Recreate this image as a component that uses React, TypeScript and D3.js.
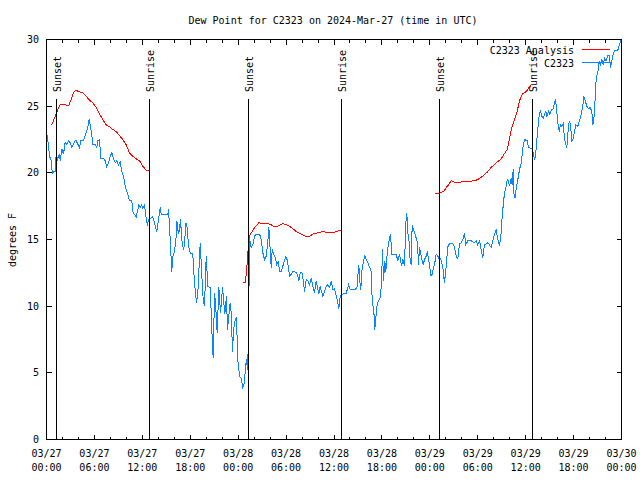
import React from 'react';
import * as d3 from 'd3';

const TITLE = 'Dew Point for C2323 on 2024-Mar-27 (time in UTC)';
const Y_LABEL = 'degrees F';
const START = Date.UTC(2024, 2, 27);
const HOURS_SPAN = 72;
const yTicks = [0, 5, 10, 15, 20, 25, 30];
const majorTickHours = [0, 6, 12, 18, 24, 30, 36, 42, 48, 54, 60, 66, 72];
const minorTickStep = 2;
const sunsetHours = [1.25, 25.29, 49.21];
const sunriseHours = [12.9, 36.94, 60.86];
const legendNames = ['C2323 Analysis', 'C2323'];

// Analysis (model) dew point, hours since 03/27 00:00 UTC, deg F
const analysisNight1: [number, number][] = [
  [0.66, 23.6], [1.0, 24.1], [1.41, 24.75], [1.72, 25.1], [2.25, 25.1], [2.79, 25.05], [3.09, 25.5],
  [3.29, 25.9], [3.63, 26.2], [4.04, 26.1], [4.55, 26.0], [4.97, 25.75], [5.38, 25.45], [5.8, 25.25],
  [6.22, 24.9], [6.64, 24.4], [7.05, 24.0], [7.48, 23.6], [7.89, 23.45], [8.3, 23.25], [8.73, 23.1],
  [9.14, 22.8], [9.55, 22.5], [9.98, 22.1], [10.39, 21.5], [10.81, 21.25], [11.23, 21.05], [11.65, 20.9],
  [12.06, 20.5], [12.48, 20.2], [12.77, 20.15],
];
const analysisNight2: [number, number][] = [
  [24.58, 11.8], [24.88, 11.8], [25.01, 12.4], [25.13, 13.25], [25.29, 14.6], [25.51, 15.45], [25.76, 15.6],
  [26.05, 15.9], [26.33, 16.05], [26.58, 16.25], [27.09, 16.2], [27.71, 16.2], [28.14, 16.1], [28.55, 15.95],
  [28.96, 16.0], [29.59, 16.2], [30.09, 16.1], [30.64, 15.9], [31.27, 15.6], [31.89, 15.4], [32.52, 15.2],
  [32.85, 15.2], [33.35, 15.4], [33.97, 15.5], [34.6, 15.6], [35.22, 15.5], [35.85, 15.5], [36.28, 15.6],
  [36.81, 15.7],
];
const analysisNight3: [number, number][] = [
  [48.59, 18.4], [49.0, 18.45], [49.42, 18.55], [49.75, 18.6], [50.05, 18.9], [50.34, 19.1], [50.68, 19.4],
  [51.09, 19.3], [51.72, 19.3], [52.55, 19.35], [53.59, 19.4], [54.0, 19.5], [54.63, 19.75], [55.18, 20.05],
  [55.68, 20.4], [56.31, 20.75], [56.94, 21.05], [57.35, 21.45], [57.69, 21.75], [57.98, 22.6], [58.31, 23.5],
  [58.6, 24.0], [58.89, 24.5], [59.23, 25.4], [59.57, 25.9], [60.07, 26.1], [60.48, 26.45], [60.69, 26.55],
];

// Station C2323 observed dew point, hours since 03/27 00:00 UTC, deg F
const stationObs: [number, number][] = [
  [0.05, 22.9], [0.25, 22.1], [0.38, 21.2], [0.54, 21.1], [0.75, 19.9], [0.88, 20.1], [1.13, 20.1], [1.21, 21.5],
  [1.38, 21.0], [1.59, 21.4], [1.72, 20.9], [1.92, 21.8], [2.13, 21.4], [2.34, 22.3], [2.54, 22.1], [2.75, 22.4],
  [2.97, 22.25], [3.17, 21.9], [3.38, 22.2], [3.67, 22.45], [3.88, 22.2], [4.13, 21.9], [4.3, 22.4], [4.63, 22.4],
  [4.92, 22.9], [5.17, 23.4], [5.35, 24.05], [5.47, 23.6], [5.67, 22.9], [5.8, 22.1], [6.1, 22.1], [6.3, 21.9],
  [6.42, 22.4], [6.64, 22.5], [6.8, 21.1], [7.14, 21.1], [7.35, 20.9], [7.55, 20.45], [7.76, 20.75], [7.98, 21.25],
  [8.18, 21.5], [8.39, 21.1], [8.6, 20.75], [8.8, 20.9], [9.02, 20.6], [9.23, 20.8], [9.43, 20.1], [9.64, 19.75],
  [9.85, 19.0], [10.06, 18.6], [10.27, 18.25], [10.39, 17.9], [10.68, 17.9], [10.81, 17.1], [10.98, 16.9],
  [11.23, 16.7], [11.39, 17.1], [11.56, 17.6], [11.73, 17.4], [11.93, 17.6], [12.06, 17.35], [12.27, 17.6],
  [12.4, 17.0], [12.56, 16.25], [12.65, 16.1], [12.77, 16.5], [13.31, 16.7], [13.81, 15.6], [13.94, 16.1],
  [14.24, 17.4], [14.36, 16.9], [15.19, 16.9], [15.28, 17.25], [15.49, 15.0], [15.61, 13.5], [15.69, 12.6],
  [15.82, 13.75], [16.03, 14.1], [16.24, 15.25], [16.32, 16.4], [16.44, 15.75], [16.57, 15.4], [16.78, 16.5],
  [16.94, 15.0], [17.15, 14.25], [17.28, 14.6], [17.44, 16.25], [17.62, 15.9], [17.78, 14.5], [17.99, 14.0],
  [18.32, 13.9], [18.53, 11.75], [18.78, 10.25], [18.95, 11.0], [19.25, 14.75], [19.45, 12.25], [19.62, 10.5],
  [19.78, 10.0], [20.0, 13.75], [20.2, 11.5], [20.5, 11.4], [20.75, 7.5], [20.87, 6.1], [21.04, 11.0],
  [21.16, 10.25], [21.37, 8.0], [21.58, 11.4], [21.79, 9.5], [22.04, 11.4], [22.2, 10.25], [22.33, 9.4],
  [22.54, 10.75], [22.66, 8.25], [22.83, 9.25], [23.0, 10.25], [23.13, 9.5], [23.29, 6.6], [23.42, 8.25],
  [23.63, 9.0], [23.79, 9.1], [23.95, 6.0], [24.17, 4.75], [24.38, 4.6], [24.58, 3.9], [24.79, 4.25],
  [24.92, 5.5], [25.04, 6.0], [25.17, 5.25], [25.29, 7.5], [25.42, 15.1], [25.63, 14.4], [25.84, 14.6],
  [26.05, 15.25], [26.26, 15.4], [26.46, 15.4], [26.68, 15.4], [26.89, 15.0], [27.09, 14.0], [27.3, 13.5],
  [27.51, 13.75], [27.71, 14.75], [27.84, 15.95], [28.01, 14.25], [28.14, 12.9], [28.26, 14.25], [28.46, 13.9],
  [28.67, 13.6], [28.84, 13.1], [29.05, 13.4], [29.17, 12.6], [29.39, 12.6], [29.59, 13.0], [29.8, 13.4],
  [29.93, 13.7], [30.09, 13.6], [30.26, 13.0], [30.43, 12.25], [30.64, 12.4], [30.84, 12.6], [31.26, 12.55],
  [31.46, 12.25], [31.59, 11.9], [31.77, 12.5], [31.97, 12.55], [32.1, 12.1], [32.31, 11.1], [32.52, 12.0],
  [32.72, 11.9], [32.93, 11.6], [33.14, 12.1], [33.35, 11.5], [33.56, 11.0], [33.77, 11.9], [33.97, 11.25],
  [34.1, 10.95], [34.27, 11.5], [34.43, 11.1], [34.6, 10.75], [34.81, 11.1], [35.02, 11.5], [35.22, 11.6],
  [35.44, 11.4], [35.65, 11.9], [35.85, 11.25], [36.06, 11.3], [36.28, 10.75], [36.48, 10.25], [36.6, 9.8],
  [36.78, 10.75], [36.98, 10.9], [37.53, 10.95], [37.82, 11.6], [38.03, 11.25], [38.23, 11.25], [38.86, 11.3],
  [38.98, 12.25], [39.11, 13.1], [39.23, 11.9], [39.36, 11.25], [39.48, 12.6], [39.61, 13.1], [39.73, 13.5],
  [39.86, 13.8], [40.03, 13.5], [40.23, 13.25], [40.45, 12.95], [40.66, 12.6], [40.78, 10.5], [40.99, 9.6],
  [41.11, 8.25], [41.24, 9.1], [41.36, 9.9], [41.53, 10.4], [41.7, 10.5], [41.82, 10.75], [41.95, 11.75],
  [42.07, 14.25], [42.2, 11.9], [42.36, 13.4], [42.49, 12.6], [42.66, 13.9], [42.79, 14.6], [42.95, 15.05],
  [43.07, 15.4], [43.24, 13.9], [43.79, 13.9], [43.99, 13.4], [44.2, 13.9], [44.45, 13.0], [44.62, 13.5],
  [44.83, 13.0], [44.99, 16.25], [45.12, 16.95], [45.24, 15.5], [45.42, 14.75], [45.54, 13.4], [45.67, 13.1],
  [45.79, 16.1], [45.96, 15.75], [46.17, 15.4], [46.33, 15.0], [46.46, 14.75], [46.58, 13.1], [46.71, 14.4],
  [46.87, 13.9], [47.05, 13.4], [47.17, 13.1], [47.33, 13.5], [47.54, 13.75], [47.71, 14.1], [47.83, 13.5],
  [47.96, 13.1], [48.12, 12.3], [48.3, 12.4], [48.46, 12.9], [48.62, 13.25], [48.8, 13.9], [48.96, 13.8],
  [49.12, 13.6], [49.21, 13.75], [49.42, 13.4], [49.62, 13.0], [49.83, 11.75], [50.05, 13.0], [50.25, 14.45],
  [50.46, 14.7], [50.87, 14.7], [51.09, 14.4], [51.3, 13.75], [51.5, 13.55], [51.71, 14.7], [51.93, 14.75],
  [52.13, 15.0], [52.34, 15.5], [52.5, 14.6], [52.76, 14.9], [53.18, 14.9], [53.5, 14.75], [53.8, 14.9],
  [54.0, 14.6], [54.22, 14.9], [54.43, 14.25], [54.63, 13.6], [54.84, 14.6], [55.26, 14.75], [55.47, 14.6],
  [55.68, 14.4], [55.88, 14.9], [56.1, 15.4], [56.31, 15.7], [56.51, 15.0], [56.72, 14.5], [56.94, 15.5],
  [57.06, 16.75], [57.22, 17.75], [57.35, 18.5], [57.56, 19.0], [57.69, 19.5], [57.81, 19.4], [57.98, 19.0],
  [58.19, 19.6], [58.31, 19.1], [58.44, 20.25], [58.51, 18.5], [58.69, 18.1], [58.82, 18.9], [59.02, 19.5],
  [59.23, 20.25], [59.44, 20.75], [59.57, 21.4], [59.69, 22.1], [59.86, 22.5], [60.19, 22.4], [60.36, 21.9],
  [60.77, 21.8], [60.9, 21.6], [61.11, 21.0], [61.23, 21.25], [61.4, 22.5], [61.52, 23.25], [61.7, 24.4],
  [61.86, 24.6], [62.02, 24.25], [62.2, 24.1], [62.36, 24.4], [62.52, 24.6], [62.65, 24.25], [62.86, 24.6],
  [63.02, 24.4], [63.2, 24.7], [63.4, 24.75], [63.61, 25.2], [63.74, 25.5], [63.9, 24.6], [64.03, 23.75],
  [64.2, 23.1], [64.36, 23.6], [64.53, 23.5], [64.7, 23.7], [64.86, 22.6], [65.03, 22.1], [65.15, 21.9],
  [65.28, 22.9], [65.45, 23.9], [65.62, 23.6], [65.78, 22.4], [65.96, 22.6], [66.12, 23.1], [66.28, 23.6],
  [66.53, 23.5], [66.74, 23.9], [66.95, 24.4], [67.15, 25.0], [67.28, 25.75], [67.45, 25.4], [67.66, 25.0],
  [67.91, 24.8], [68.08, 24.9], [68.28, 24.6], [68.41, 23.6], [68.53, 23.9], [68.71, 25.6], [68.83, 27.1],
  [69.03, 27.5], [69.21, 28.4], [69.37, 28.0], [69.53, 28.5], [69.71, 28.1], [69.87, 28.6], [70.08, 28.4],
  [70.28, 28.8], [70.5, 28.8], [70.62, 27.9], [70.79, 28.4], [70.91, 28.8], [71.12, 29.2], [71.54, 29.2],
  [71.75, 29.6], [71.97, 30.0],
];

const analysisSegments = [analysisNight1, analysisNight2, analysisNight3];

const RED = '#ff0000';
const BLUE = '#0a84ff';
const FONT = '"DejaVu Sans Mono", "Liberation Mono", monospace';

const toDate = (h: number) => new Date(START + h * 3600 * 1000);

export default function App() {
  const W = 640;
  const H = 480;
  const left = 46.5, right = 621.5, top = 39.5, bottom = 439.5;

  const x = d3.scaleUtc().domain([toDate(0), toDate(HOURS_SPAN)]).range([left, right]);
  const y = d3.scaleLinear().domain([0, 30]).range([bottom, top]);

  const line = d3
    .line<[number, number]>()
    .x((d) => x(toDate(d[0])))
    .y((d) => y(d[1]));

  const fmtDay = d3.utcFormat('%m/%d');
  const fmtTime = d3.utcFormat('%H:%M');

  const minorHours = d3.range(0, HOURS_SPAN + 0.001, minorTickStep).filter((h) => h % 6 !== 0);
  const snap = (v: number) => Math.round(v - 0.5) + 0.5;

  return (
    <svg
      width={W}
      height={H}
      style={{ position: 'absolute', left: 0, top: 0, background: '#fff' }}
      fontFamily={FONT}
      fontSize={10}
    >
      <rect x={0} y={0} width={W} height={H} fill="#fff" />
      <text x={333} y={20} textAnchor="middle" dominantBaseline="central" fill="#000">
        {TITLE}
      </text>
      <text
        transform="translate(12,240) rotate(-90)"
        textAnchor="middle"
        dominantBaseline="central"
        fill="#000"
      >
        {Y_LABEL}
      </text>

      <g shapeRendering="crispEdges" stroke="#000" strokeWidth={1}>
        {yTicks.map((v) => (
          <g key={'yt' + v}>
            <line x1={left} x2={left + 5} y1={snap(y(v))} y2={snap(y(v))} />
            <line x1={right} x2={right - 5} y1={snap(y(v))} y2={snap(y(v))} />
          </g>
        ))}
        {majorTickHours.map((h) => {
          const xv = snap(x(toDate(h)));
          return (
            <g key={'xt' + h}>
              <line x1={xv} x2={xv} y1={bottom} y2={bottom - 5} />
              <line x1={xv} x2={xv} y1={top} y2={top + 5} />
            </g>
          );
        })}
        {minorHours.map((h) => {
          const xv = snap(x(toDate(h)));
          return (
            <g key={'mt' + h}>
              <line x1={xv} x2={xv} y1={bottom} y2={bottom - 3} />
              <line x1={xv} x2={xv} y1={top} y2={top + 3} />
            </g>
          );
        })}
      </g>

      {yTicks.map((v) => (
        <text key={'yl' + v} x={39} y={y(v)} textAnchor="end" dominantBaseline="central" fill="#000">
          {v}
        </text>
      ))}
      {majorTickHours.map((h) => {
        const d = toDate(h);
        const xv = x(d);
        return (
          <g key={'xl' + h}>
            <text x={xv} y={453} textAnchor="middle" dominantBaseline="central" fill="#000">
              {fmtDay(d)}
            </text>
            <text x={xv} y={467} textAnchor="middle" dominantBaseline="central" fill="#000">
              {fmtTime(d)}
            </text>
          </g>
        );
      })}

      {analysisSegments.map((seg, i) => (
        <path key={'an' + i} d={line(seg) || ''} fill="none" stroke={RED} strokeWidth={1} shapeRendering="crispEdges" />
      ))}
      <path d={line(stationObs) || ''} fill="none" stroke={BLUE} strokeWidth={1} shapeRendering="crispEdges" />

      {[...sunsetHours.map((h) => ({ h, label: 'Sunset' })), ...sunriseHours.map((h) => ({ h, label: 'Sunrise' }))].map(
        ({ h, label }) => {
          const xv = snap(x(toDate(h)));
          return (
            <g key={label + h}>
              <line x1={xv} x2={xv} y1={99} y2={bottom} stroke="#000" strokeWidth={1} shapeRendering="crispEdges" />
              <text
                transform={`translate(${xv + 1},92) rotate(-90)`}
                textAnchor="start"
                dominantBaseline="central"
                fill="#000"
              >
                {label}
              </text>
            </g>
          );
        }
      )}

      {legendNames.map((name, i) => (
        <g key={name}>
          <text x={574} y={50 + i * 13} textAnchor="end" dominantBaseline="central" fill="#000">
            {name}
          </text>
          <line
            x1={582}
            x2={610}
            y1={49.5 + i * 13}
            y2={49.5 + i * 13}
            stroke={i === 0 ? RED : BLUE}
            strokeWidth={1}
            shapeRendering="crispEdges"
          />
        </g>
      ))}

      <rect
        x={left}
        y={top}
        width={right - left}
        height={bottom - top}
        fill="none"
        stroke="#000"
        strokeWidth={1}
        shapeRendering="crispEdges"
      />
    </svg>
  );
}
